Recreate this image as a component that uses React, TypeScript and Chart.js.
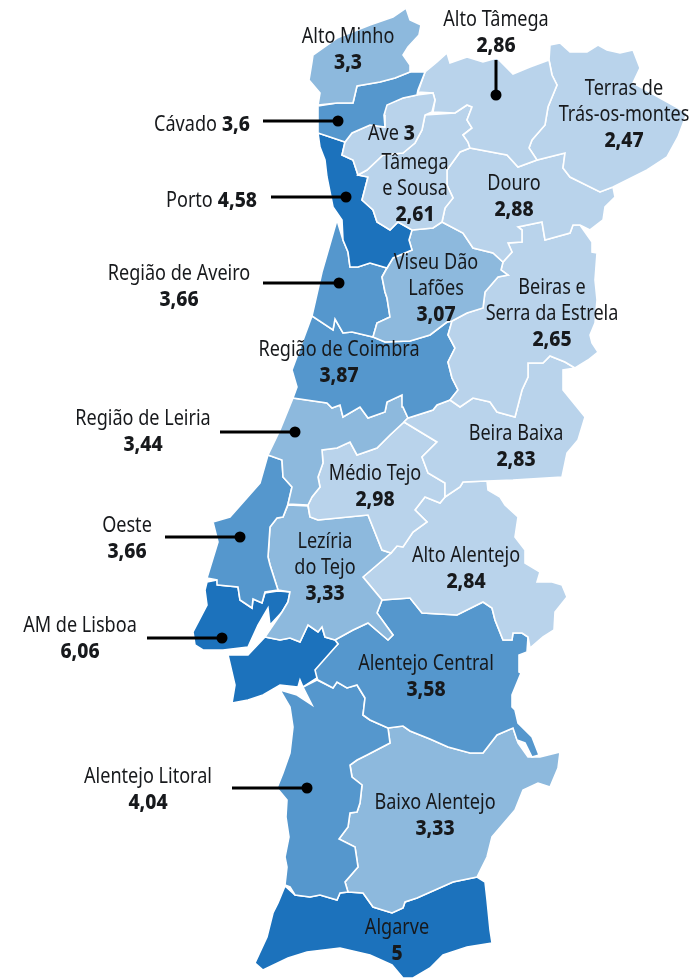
import { useEffect, useRef } from "react";
import { Chart, registerables } from "chart.js";

Chart.register(...registerables);

type P = [number, number];

const altoMinho: P[] = [[406,8],[410,20],[421,25],[419,35],[408,47],[403,55],[410,65],[410,72],[395,78],[380,82],[357,86],[353,103],[337,103],[318,105],[320,93],[309,80],[312,62],[313,55],[337,38],[370,25],[393,17]];
const cavado: P[] = [[410,72],[425,72],[418,90],[417,95],[403,98],[387,105],[384,115],[385,127],[370,125],[352,133],[345,142],[333,138],[318,133],[318,106],[337,103],[353,103],[357,86],[380,82],[395,78]];
const ave: P[] = [[385,105],[403,98],[417,95],[433,93],[435,100],[432,112],[425,115],[422,130],[415,143],[403,153],[383,155],[367,170],[358,175],[353,160],[342,155],[345,142],[352,133],[370,125],[385,127],[384,115]];
const altoTamega: P[] = [[425,72],[437,62],[447,53],[450,63],[467,57],[483,62],[497,58],[513,74],[530,67],[549,60],[552,75],[557,85],[548,107],[545,125],[532,140],[529,148],[537,160],[518,167],[507,155],[470,148],[468,142],[463,135],[472,128],[467,120],[472,107],[467,105],[455,113],[433,112],[435,100],[433,93],[418,92]];
const terras: P[] = [[549,60],[550,45],[560,43],[570,52],[587,52],[598,45],[607,50],[620,53],[633,50],[640,68],[633,83],[660,98],[687,113],[678,137],[667,157],[647,170],[613,187],[600,192],[570,177],[563,168],[565,153],[537,160],[529,148],[532,140],[545,125],[548,107],[557,85],[552,75]];
const tamegaSousa: P[] = [[425,115],[455,113],[467,105],[472,107],[467,120],[472,128],[463,135],[468,142],[470,148],[460,152],[447,170],[447,185],[453,198],[445,208],[442,222],[433,228],[412,230],[398,222],[390,230],[377,222],[373,210],[362,200],[368,177],[358,175],[367,170],[383,155],[403,153],[415,143],[422,130]];
const douro: P[] = [[460,152],[470,148],[507,155],[518,167],[537,160],[565,153],[563,168],[570,177],[600,192],[613,187],[615,197],[605,207],[603,220],[590,230],[580,225],[573,225],[570,233],[545,240],[542,222],[518,227],[522,230],[522,242],[508,243],[512,252],[503,262],[493,253],[473,248],[463,233],[442,222],[445,208],[453,198],[447,185],[447,170]];
const porto: P[] = [[318,133],[333,138],[345,142],[342,155],[353,160],[358,175],[368,177],[362,200],[373,210],[377,222],[390,230],[398,222],[412,230],[409,240],[412,250],[393,258],[387,268],[370,263],[358,267],[350,267],[348,252],[343,240],[342,220],[333,207],[327,177],[325,160],[320,147]];
const viseu: P[] = [[412,230],[433,228],[442,222],[463,233],[473,248],[493,253],[503,262],[501,270],[508,275],[498,277],[485,292],[483,308],[467,313],[452,321],[447,322],[430,335],[410,341],[385,342],[373,337],[377,323],[390,317],[387,298],[385,292],[382,277],[387,268],[393,258],[412,250],[409,240]];
const aveiro: P[] = [[337,220],[343,240],[348,252],[350,267],[358,267],[370,263],[387,268],[382,277],[385,292],[387,298],[390,317],[377,323],[373,337],[352,332],[343,333],[335,319],[333,330],[312,316],[322,272]];
const beiras: P[] = [[503,262],[512,252],[508,243],[522,242],[522,230],[518,227],[542,222],[545,240],[570,233],[573,225],[580,225],[592,242],[592,252],[597,253],[595,280],[597,300],[595,323],[590,335],[592,343],[598,352],[588,360],[575,368],[565,362],[550,356],[543,363],[528,363],[528,377],[522,390],[515,417],[497,412],[490,402],[473,398],[460,407],[450,400],[458,390],[452,378],[448,362],[455,348],[448,335],[452,321],[467,313],[483,308],[485,292],[498,277],[508,275],[501,270]];
const coimbra: P[] = [[312,316],[333,330],[335,319],[343,333],[352,332],[373,337],[385,342],[410,341],[430,335],[447,322],[452,321],[448,335],[455,348],[448,362],[452,378],[458,390],[450,400],[437,405],[433,410],[408,418],[403,407],[402,395],[387,402],[385,412],[368,418],[360,407],[343,417],[340,405],[332,408],[327,403],[293,398],[297,387],[292,370]];
const beiraBaixa: P[] = [[575,368],[563,370],[563,390],[585,417],[578,440],[567,453],[562,477],[513,480],[487,481],[463,482],[460,487],[445,497],[445,483],[428,473],[422,457],[437,442],[404,422],[408,418],[433,410],[437,405],[450,400],[460,407],[473,398],[490,402],[497,412],[515,417],[522,390],[528,377],[528,363],[543,363],[550,356],[565,362]];
const leiria: P[] = [[293,398],[327,403],[332,408],[340,405],[343,417],[360,407],[368,418],[385,412],[387,402],[402,395],[403,407],[408,418],[404,422],[390,435],[377,448],[357,455],[350,442],[337,448],[322,450],[323,463],[318,477],[320,487],[312,497],[308,505],[288,504],[292,487],[283,477],[282,460],[268,455],[280,430]];
const medioTejo: P[] = [[322,450],[337,448],[350,442],[357,455],[377,448],[390,435],[404,422],[437,442],[422,457],[428,473],[445,483],[445,497],[440,503],[425,497],[415,510],[427,522],[413,532],[403,547],[397,546],[391,553],[382,550],[368,515],[318,520],[310,517],[308,505],[312,497],[320,487],[318,477],[323,463]];
const oeste: P[] = [[268,455],[282,460],[283,477],[292,487],[288,504],[283,517],[277,518],[270,527],[268,557],[270,565],[278,590],[265,592],[262,603],[253,599],[252,608],[240,600],[238,587],[218,585],[217,580],[207,578],[218,542],[213,522],[230,517],[260,483]];
const leziria: P[] = [[288,505],[308,506],[310,517],[318,520],[368,515],[382,550],[391,553],[363,577],[382,600],[377,613],[393,635],[388,640],[368,623],[353,630],[335,640],[325,637],[322,627],[318,632],[308,625],[300,642],[290,638],[280,640],[265,637],[282,612],[288,602],[290,592],[278,590],[270,565],[268,557],[270,527],[277,518],[283,517]];
const lisboaNorte: P[] = [[207,582],[217,580],[218,585],[238,587],[240,600],[252,608],[253,599],[262,603],[265,593],[278,591],[290,592],[288,602],[282,612],[270,625],[268,608],[258,625],[248,647],[223,650],[203,650],[195,645],[193,632],[207,605],[205,590]];
const lisboaSul: P[] = [[228,655],[248,655],[265,637],[280,640],[290,638],[300,642],[308,625],[318,632],[322,627],[325,637],[335,640],[338,644],[315,670],[317,678],[303,687],[300,680],[298,687],[280,685],[263,695],[248,700],[232,703],[235,685]];
const altoAlentejo: P[] = [[391,553],[397,546],[403,547],[413,532],[427,522],[415,510],[425,497],[440,503],[445,497],[460,487],[463,482],[487,481],[488,490],[500,497],[505,505],[518,517],[515,537],[525,550],[525,563],[540,572],[537,582],[552,582],[562,585],[567,597],[555,612],[554,630],[543,637],[530,648],[528,637],[522,633],[513,633],[512,640],[503,640],[495,620],[492,608],[483,602],[457,615],[422,613],[410,598],[382,600],[363,577]];
const alentejoCentral: P[] = [[318,680],[313,672],[325,657],[338,644],[335,640],[353,630],[368,623],[388,640],[393,635],[377,613],[382,600],[410,598],[422,613],[457,615],[483,602],[492,608],[495,620],[503,640],[512,640],[513,633],[522,633],[528,637],[527,652],[519,655],[519,672],[521,673],[512,695],[512,707],[515,710],[518,723],[532,737],[539,755],[532,757],[525,743],[517,740],[513,728],[497,735],[483,753],[470,753],[448,747],[430,739],[410,731],[403,726],[388,728],[370,720],[363,715],[365,698],[357,685],[347,688],[337,682],[333,688]];
const alentejoLitoral: P[] = [[280,690],[297,695],[312,705],[303,687],[317,680],[333,688],[337,682],[347,688],[357,685],[365,698],[363,715],[370,720],[388,728],[390,743],[367,755],[357,760],[350,765],[352,777],[362,785],[360,803],[357,812],[350,813],[348,827],[339,839],[355,847],[358,867],[345,882],[348,892],[340,893],[337,900],[320,895],[310,897],[295,895],[290,887],[285,885],[287,867],[285,857],[289,837],[286,817],[287,800],[277,788],[283,773],[290,753],[293,727],[290,707]];
const baixoAlentejo: P[] = [[388,728],[403,726],[410,731],[430,739],[448,747],[470,753],[483,753],[497,735],[513,728],[518,743],[528,757],[540,757],[560,752],[558,768],[550,787],[538,783],[523,790],[515,810],[492,837],[487,857],[477,877],[453,882],[417,898],[405,902],[403,908],[392,913],[373,907],[363,893],[348,892],[345,882],[358,867],[355,847],[339,839],[348,827],[350,813],[357,812],[360,803],[362,785],[352,777],[350,765],[357,760],[367,755],[390,743]];
const algarve: P[] = [[285,886],[295,895],[310,897],[320,895],[337,900],[340,893],[348,892],[363,893],[373,907],[392,913],[403,908],[405,902],[417,898],[453,882],[477,877],[485,882],[487,900],[490,930],[492,943],[467,947],[443,955],[430,968],[413,978],[403,978],[392,965],[370,955],[340,948],[307,952],[288,958],[263,970],[255,963],[267,937],[273,913],[278,903]];

const regionOutlines: P[][] = [altoMinho, cavado, ave, altoTamega, terras, tamegaSousa, douro, porto, viseu, aveiro, beiras, coimbra, beiraBaixa, leiria, medioTejo, oeste, leziria, lisboaNorte, lisboaSul, altoAlentejo, alentejoCentral, alentejoLitoral, baixoAlentejo, algarve];
const regionValues: number[] = [3.3, 3.6, 3, 2.86, 2.47, 2.61, 2.88, 4.58, 3.07, 3.66, 2.65, 3.87, 2.83, 3.44, 2.98, 3.66, 3.33, 6.06, 6.06, 2.84, 3.58, 4.04, 3.33, 5];

// [label lines, value text, x, y of first line]
const stackedLabels: [string[], string, number, number][] = [
  [["Alto Minho"], "3,3", 348, 35],
  [["Alto Tâmega"], "2,86", 496, 18],
  [["Terras de", "Trás-os-montes"], "2,47", 624, 87],
  [["Tâmega", "e Sousa"], "2,61", 415, 161],
  [["Douro"], "2,88", 514, 182],
  [["Região de Aveiro"], "3,66", 179, 272],
  [["Viseu Dão", "Lafões"], "3,07", 436, 261],
  [["Beiras e", "Serra da Estrela"], "2,65", 552, 286],
  [["Região de Coimbra"], "3,87", 339, 348],
  [["Região de Leiria"], "3,44", 143, 417],
  [["Beira Baixa"], "2,83", 516, 432],
  [["Médio Tejo"], "2,98", 375, 472],
  [["Oeste"], "3,66", 127, 524],
  [["Lezíria", "do Tejo"], "3,33", 325, 540],
  [["Alto Alentejo"], "2,84", 466, 554],
  [["AM de Lisboa"], "6,06", 80, 624],
  [["Alentejo Central"], "3,58", 426, 662],
  [["Alentejo Litoral"], "4,04", 148, 775],
  [["Baixo Alentejo"], "3,33", 435, 801],
  [["Algarve"], "5", 397, 926],
];
const inlineLabels: [string, string, number, number][] = [
  ["Cávado", "3,6", 250, 123],
  ["Ave", "3", 415, 132],
  ["Porto", "4,58", 257, 199],
];
const leaders: P[][] = [
  [[263,121],[338,121]],
  [[271,197],[346,197]],
  [[263,283],[339,283]],
  [[220,432],[295,432]],
  [[165,537],[240,537]],
  [[147,638],[222,638]],
  [[232,788],[307,788]],
  [[496,60],[496,95]],
];

const colorFor = (v: number) =>
  v >= 4.5 ? "#1c72bc" : v >= 3.5 ? "#5597cd" : v > 3 ? "#8db9dd" : "#b9d3eb";

const REGULAR = '21px "Noto Sans"';
const BOLD = '800 21px "Noto Sans"';
const REG_SX = 0.86;
const BOLD_SX = 0.92;
const TEXT_DY = 2;
const INK = "#17191c";
const LINE_H = 26;

const put = (ctx: any, t: string, x: number, y: number, sx: number) => {
  ctx.save();
  ctx.translate(x, y + TEXT_DY);
  ctx.scale(sx, 1);
  ctx.fillText(t, 0, 0);
  ctx.restore();
};

const labelsPlugin = {
  id: "labels",
  afterDatasetsDraw(chart: any) {
    const { ctx, scales } = chart;
    const X = (v: number) => scales.x.getPixelForValue(v);
    const Y = (v: number) => scales.y.getPixelForValue(v);
    ctx.save();
    ctx.fillStyle = INK;
    ctx.textBaseline = "middle";
    ctx.textAlign = "center";
    for (const [lines, value, x, y] of stackedLabels) {
      ctx.font = REGULAR;
      lines.forEach((t, i) => put(ctx, t, X(x), Y(y + i * LINE_H), REG_SX));
      ctx.font = BOLD;
      put(ctx, value, X(x), Y(y + lines.length * LINE_H), BOLD_SX);
    }
    ctx.textAlign = "right";
    for (const [name, value, x, y] of inlineLabels) {
      ctx.font = BOLD;
      put(ctx, value, X(x), Y(y), BOLD_SX);
      const w = ctx.measureText(value).width * BOLD_SX + 5;
      ctx.font = REGULAR;
      put(ctx, name, X(x) - w, Y(y), REG_SX);
    }
    ctx.restore();
  },
};

export default function App() {
  const ref = useRef<HTMLCanvasElement>(null);
  useEffect(() => {
    document.body.style.margin = "0";
    document.body.style.background = "#fff";
    const regionSets = regionOutlines.map((o, i) => ({
      data: [...o, o[0]].map(([x, y]) => ({ x, y })),
      showLine: true,
      fill: "shape",
      backgroundColor: colorFor(regionValues[i]),
      borderColor: "#ffffff",
      borderWidth: 1.6,
      pointRadius: 0,
      tension: 0,
      clip: false,
      order: 2,
    }));
    const leaderSets = leaders.map((l) => ({
      data: l.map(([x, y]) => ({ x, y })),
      showLine: true,
      fill: false,
      borderColor: "#000",
      backgroundColor: "#000",
      borderWidth: 3,
      pointRadius: [0, 5.5],
      pointBorderWidth: 0,
      pointBackgroundColor: "#000",
      tension: 0,
      clip: false,
      order: 1,
    }));
    const chart = new Chart(ref.current!, {
      type: "scatter",
      data: { datasets: [...regionSets, ...leaderSets] as any },
      options: {
        animation: false,
        responsive: false,
        layout: { padding: 0, autoPadding: false },
        plugins: { legend: { display: false }, tooltip: { enabled: false }, title: { display: false } },
        scales: {
          x: { type: "linear", min: 0, max: 696, display: false },
          y: { type: "linear", min: 0, max: 978, reverse: true, display: false },
        },
      },
      plugins: [labelsPlugin],
    });
    return () => chart.destroy();
  }, []);
  return <canvas ref={ref} width={696} height={978} style={{ display: "block" }} />;
}
